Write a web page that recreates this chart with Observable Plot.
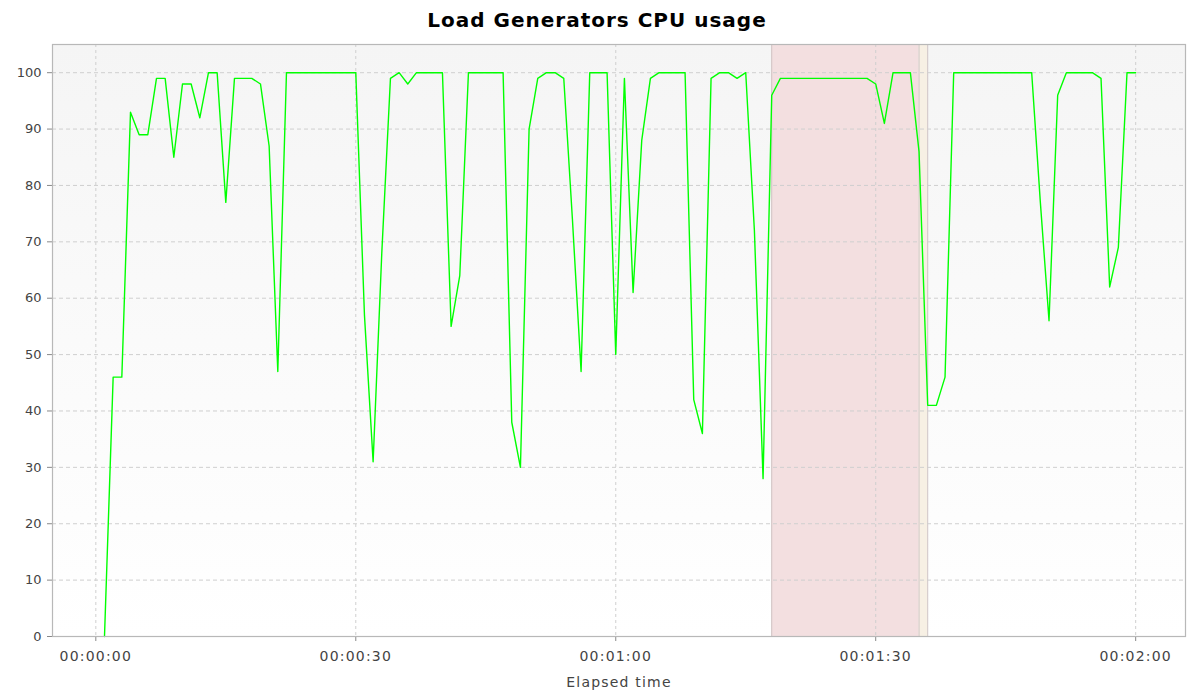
<!DOCTYPE html>
<html><head><meta charset="utf-8">
<script src="https://cdn.jsdelivr.net/npm/d3@7"></script>
<script src="https://cdn.jsdelivr.net/npm/@observablehq/plot@0.6"></script>
<style>
body{margin:0;background:#fff;font-family:"DejaVu Sans",sans-serif;}
#title{height:36px;line-height:40px;text-align:center;font-weight:bold;font-size:20px;letter-spacing:1px;color:#000;padding-left:4px;}
</style></head><body>
<div id="title">Load Generators CPU usage</div>
<div id="chart"></div>
<script>
// elapsed seconds
const seconds = [1,2,3,4,5,6,7,8,9,10,11,12,13,14,15,16,17,18,19,20,
  21,22,23,24,25,26,27,28,29,30,31,32,33,34,35,36,37,38,39,40,
  41,42,43,44,45,46,47,48,49,50,51,52,53,54,55,56,57,58,59,60,
  61,62,63,64,65,66,67,68,69,70,71,72,73,74,75,76,77,78,79,80,
  81,82,83,84,85,86,87,88,89,90,91,92,93,94,95,96,97,98,99,100,
  101,102,103,104,105,106,107,108,109,110,111,112,113,114,115,116,117,118,119,120];
// CPU usage (%)
const cpu = [0,46,46,93,89,89,99,99,85,98,98,92,100,100,77,99,99,99,98,87,
  47,100,100,100,100,100,100,100,100,100,57,31,68,99,100,98,100,100,100,100,
  55,64,100,100,100,100,100,38,30,90,99,100,100,99,74,47,100,100,100,50,
  99,61,88,99,100,100,100,100,42,36,99,100,100,99,100,72,28,96,99,99,
  99,99,99,99,99,99,99,99,99,98,91,100,100,100,86,41,41,46,100,100,
  100,100,100,100,100,100,100,100,77,56,96,100,100,100,100,99,62,69,100,100];
const xTicks = [0,30,60,90,120];
const yTicks = [0,10,20,30,40,50,60,70,80,90,100];
// highlighted intervals (seconds)
const bandStart = [78,95];
const bandEnd = [95,96];
const bandColor = ["#f3dfe0","#f7f0e4"];
const bandEdges = [78,95,96];

const data = seconds.map((t,i)=>({t, cpu: cpu[i]}));
const bands = bandStart.map((s,i)=>({s, e: bandEnd[i], c: bandColor[i]}));
const pad = n => String(n).padStart(2,"0");
const fmt = s => `${pad(Math.floor(s/3600))}:${pad(Math.floor(s/60)%60)}:${pad(s%60)}`;

const chart = Plot.plot({
  width: 1190, height: 659,
  marginTop: 8, marginBottom: 59, marginLeft: 52, marginRight: 5,
  style: {fontFamily: "DejaVu Sans, sans-serif", fontSize: "13px", color: "#444", background: "transparent"},
  x: {domain: [-5.0, 125.75], ticks: xTicks, tickFormat: fmt, tickSize: 5, tickPadding: 10, label: null},
  y: {domain: [0, 105], ticks: yTicks, tickSize: 5, tickPadding: 6, label: null},
  marks: [
    Plot.frame({fill: "url(#bgGrad)", stroke: "none"}),
    Plot.rect(bands, {x1: "s", x2: "e", fill: "c"}),
    Plot.ruleX(bandEdges, {stroke: "#cfc3c3", strokeWidth: 1}),
    Plot.ruleY(yTicks.slice(1), {stroke: "#cfcfcf", strokeDasharray: "4,3"}),
    Plot.ruleX(xTicks, {stroke: "#cfcfcf", strokeDasharray: "3,3"}),
    Plot.line(data, {x: "t", y: "cpu", stroke: "#00ff00", strokeWidth: 1.4}),
    Plot.frame({stroke: "#b8b8b8", strokeWidth: 1.2}),
    Plot.text(["Elapsed time"], {frameAnchor: "bottom", dy: 50, text: d => d, fontSize: 14, fill: "#444"})
  ]
});
const defs = d3.select(chart).insert("defs", ":first-child");
const g = defs.append("linearGradient").attr("id","bgGrad").attr("x1",0).attr("y1",0).attr("x2",0).attr("y2",1);
g.append("stop").attr("offset","0%").attr("stop-color","#f5f5f5");
g.append("stop").attr("offset","100%").attr("stop-color","#ffffff");
const svg = d3.select(chart);
svg.selectAll("[aria-label='y-axis tick'], [aria-label='x-axis tick']").attr("stroke","#888");
svg.selectAll("[aria-label='x-axis tick label'] text, [aria-label='x-axis'] text")
  .style("font-size","14px").style("letter-spacing","1.2px");
svg.selectAll("[aria-label='text'] text").style("letter-spacing","1.2px");
document.getElementById("chart").appendChild(chart);
</script></body></html>
